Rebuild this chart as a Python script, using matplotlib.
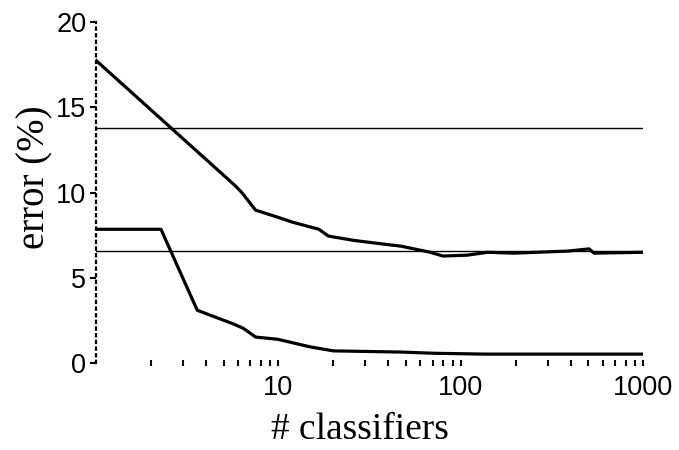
import numpy as np
import matplotlib
matplotlib.use("Agg")
import matplotlib.pyplot as plt

# test error curve (upper) vs number of classifiers
test_x = [1, 5.8, 6.3, 7.5, 9.9, 11.9, 15, 16.6, 18.8, 25.8, 37.7, 46.9,
          68, 79.7, 108, 140, 195, 385, 505, 537, 1000]
test_y = [17.75, 10.4, 10.0, 8.97, 8.56, 8.27, 7.98, 7.86, 7.45,
          7.2, 6.98, 6.86, 6.5, 6.28, 6.33, 6.5, 6.45, 6.57, 6.7, 6.45, 6.5]

# training error curve (lower)
train_x = [1, 2.27, 3.59, 5.66, 6.4, 7.5, 9.9, 15, 20, 46.9, 71, 134, 1000]
train_y = [7.85, 7.85, 3.1, 2.3, 2.05, 1.53, 1.4, 0.95, 0.72, 0.65, 0.58, 0.53, 0.53]

# reference levels
ref_levels = [13.8, 6.6]

fig = plt.figure(figsize=(6.79, 4.5), dpi=100)
ax = fig.add_axes([0.1414, 0.193, 0.806, 0.758])

for lvl in ref_levels:
    ax.plot([1, 1000], [lvl, lvl], color="black", lw=1.0)
ax.plot(test_x, test_y, color="black", lw=2.3, solid_joinstyle="round")
ax.plot(train_x, train_y, color="black", lw=2.3, solid_joinstyle="round")

ax.set_xscale("log")
ax.set_xlim(1, 1000)
ax.set_ylim(0, 20)
ax.set_xticks([10, 100, 1000])
ax.set_xticklabels(["10", "100", "1000"])
ax.set_yticks([0, 5, 10, 15, 20])
ax.set_yticklabels(["0", "5", "10", "15", "20"])

for s in ["top", "right", "bottom"]:
    ax.spines[s].set_visible(False)
ax.spines["left"].set_linestyle((0, (1, 2)))
ax.spines["left"].set_linewidth(1.6)

ax.tick_params(axis="x", which="both", direction="inout", length=5, width=1.5,
               labelsize=19.5, pad=6)
ax.tick_params(axis="y", which="major", direction="out", length=4, width=1.5,
               labelsize=19.5, pad=3)
ax.tick_params(axis="y", which="minor", left=False)
for lab in ax.get_xticklabels() + ax.get_yticklabels():
    lab.set_family("Liberation Sans")

ax.set_xlabel("# classifiers", family="Liberation Serif", fontsize=27, va="baseline")
ax.xaxis.set_label_coords(0.482, -0.222)
ax.set_ylabel("error (%)", family="Liberation Serif", fontsize=28)
ax.yaxis.set_label_coords(-0.078, 0.545)

fig.savefig("out.png", dpi=100)
